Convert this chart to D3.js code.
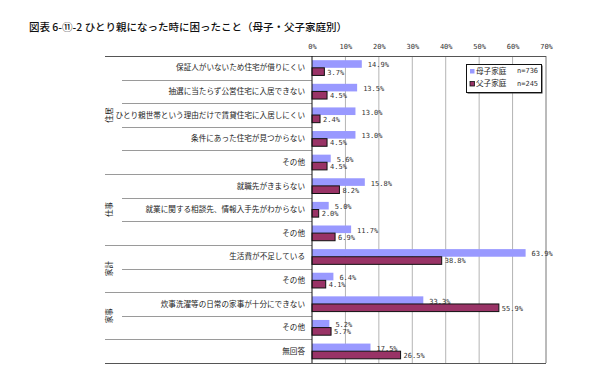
<!DOCTYPE html>
<html>
<head>
<meta charset="utf-8">
<script src="https://cdn.jsdelivr.net/npm/d3@7"></script>
<style>
  body { margin: 0; background: #fff; }
  text { font-family: "Noto Sans CJK JP", sans-serif; }
  .num { font-family: "DejaVu Sans Mono", monospace; font-size: 7px; fill: #333; }
</style>
</head>
<body>
<div id="chart"></div>
<script>
const groups = ['住居', '住居', '住居', '住居', '住居', '仕事', '仕事', '仕事', '家計', '家計', '家事', '家事', ''];
const categories = [
  '保証人がいないため住宅が借りにくい',
  '抽選に当たらず公営住宅に入居できない',
  'ひとり親世帯という理由だけで賃貸住宅に入居しにくい',
  '条件にあった住宅が見つからない',
  'その他',
  '就職先がきまらない',
  '就業に関する相談先、情報入手先がわからない',
  'その他',
  '生活費が不足している',
  'その他',
  '炊事洗濯等の日常の家事が十分にできない',
  'その他',
  '無回答'
];
const boshi = [14.9, 13.5, 13.0, 13.0, 5.6, 15.8, 5.0, 11.7, 63.9, 6.4, 33.3, 5.2, 17.5];
const fushi = [3.7, 4.5, 2.4, 4.5, 4.5, 8.2, 2.0, 6.9, 38.8, 4.1, 55.9, 5.7, 26.5];
const xTicks = [0, 10, 20, 30, 40, 50, 60, 70];
const seriesNames = ['母子家庭', '父子家庭'];
const seriesN = ['n=736', 'n=245'];

const W = 600, H = 389;
const plot = { left: 312, right: 546, top: 56, bottom: 363 };
const labelLeft = 105, innerLeft = 122;

const svg = d3.select('#chart').append('svg')
  .attr('width', W).attr('height', H);

svg.append('text')
  .attr('x', 29).attr('y', 31)
  .attr('font-size', 10.5)
  .attr('font-weight', 500)
  .attr('fill', '#111')
  .text('図表 6-⑪-2 ひとり親になった時に困ったこと（母子・父子家庭別）');

const x = d3.scaleLinear().domain([0, 70]).range([plot.left, plot.right]);
const y = d3.scaleBand().domain(d3.range(categories.length)).range([plot.top, plot.bottom]);
const ySub = d3.scaleBand().domain([0, 1]).range([0, y.bandwidth()]).paddingOuter(0.55).paddingInner(0);

// vertical gridlines
svg.append('g').selectAll('line')
  .data(xTicks.slice(1))
  .enter().append('line')
    .attr('x1', d => x(d)).attr('x2', d => x(d))
    .attr('y1', plot.top).attr('y2', plot.bottom)
    .attr('stroke', d => d === 70 ? '#777' : '#b4b4b4')
    .attr('stroke-width', 1);

// top tick labels
const axis = svg.append('g')
  .attr('transform', 'translate(0,' + plot.top + ')')
  .call(d3.axisTop(x).tickValues(xTicks).tickSize(0).tickFormat(d => d + '%'));
axis.select('.domain').remove();
axis.selectAll('.tick text')
  .attr('class', 'num')
  .attr('font-size', null)
  .attr('font-family', null)
  .attr('dy', -4);

// row separators in the label area
const bounds = d3.range(categories.length + 1);
svg.append('g').selectAll('line')
  .data(bounds)
  .enter().append('line')
    .attr('x1', i => (i === 0 || i === categories.length || groups[i] !== groups[i - 1]) ? labelLeft : innerLeft)
    .attr('x2', i => (i === 0 || i === categories.length) ? plot.right : plot.left)
    .attr('y1', i => Math.round(plot.top + i * y.step()) + 0.5)
    .attr('y2', i => Math.round(plot.top + i * y.step()) + 0.5)
    .attr('stroke', i => (i === 0 || i === categories.length) ? '#555' : '#9a9a9a')
    .attr('stroke-width', 1);

// category labels
svg.append('g').selectAll('text')
  .data(categories)
  .enter().append('text')
    .attr('x', 305)
    .attr('y', (d, i) => y(i) + y.bandwidth() / 2)
    .attr('dy', '0.35em')
    .attr('text-anchor', 'end')
    .attr('font-size', 7.6)
    .attr('fill', '#222')
    .text(d => d);

// group labels (rotated)
const groupNames = Array.from(new Set(groups.filter(g => g)));
svg.append('g').selectAll('text')
  .data(groupNames)
  .enter().append('text')
    .attr('transform', g => {
      const idx = groups.map((v, i) => v === g ? i : -1).filter(i => i >= 0);
      const cy = (y(idx[0]) + y(idx[idx.length - 1]) + y.bandwidth()) / 2;
      return 'translate(109,' + cy + ') rotate(-90)';
    })
    .attr('text-anchor', 'middle')
    .attr('dy', '0.35em')
    .attr('font-size', 7.6)
    .attr('fill', '#222')
    .text(d => d);

// bars
const colors = ['#9999ff', '#993366'];
const series = [boshi, fushi];
series.forEach((vals, s) => {
  const g = svg.append('g');
  g.selectAll('rect')
    .data(vals)
    .enter().append('rect')
      .attr('x', x(0))
      .attr('y', (d, i) => y(i) + ySub(s))
      .attr('width', d => x(d) - x(0))
      .attr('height', ySub.bandwidth())
      .attr('fill', colors[s])
      .attr('stroke', s === 1 ? '#111' : 'none')
      .attr('stroke-width', 1);
  g.selectAll('text')
    .data(vals)
    .enter().append('text')
      .attr('class', 'num')
      .attr('x', d => x(d) + (s === 0 ? 6 : 3))
      .attr('y', (d, i) => y(i) + ySub(s) + ySub.bandwidth() / 2 + (s === 0 ? 1 : 0.5))
      .attr('dy', '0.35em')
      .text(d => d.toFixed(1) + '%');
});

// axis line at 0%
svg.append('line')
  .attr('x1', x(0)).attr('x2', x(0))
  .attr('y1', plot.top).attr('y2', plot.bottom)
  .attr('stroke', '#111');

// legend
const legend = svg.append('g').attr('transform', 'translate(466,64)');
legend.append('rect')
  .attr('x', 1.5).attr('y', 1.5).attr('width', 75).attr('height', 28)
  .attr('fill', '#333');
legend.append('rect')
  .attr('x', 0.5).attr('y', 0.5).attr('width', 75).attr('height', 28)
  .attr('fill', '#fff').attr('stroke', '#111');
seriesNames.forEach((name, i) => {
  const row = legend.append('g').attr('transform', 'translate(0,' + (7 + i * 12.5) + ')');
  row.append('rect')
    .attr('x', 4).attr('y', -2).attr('width', 4.5).attr('height', 4.5)
    .attr('fill', colors[i]).attr('stroke', i === 1 ? '#111' : 'none').attr('stroke-width', 0.8);
  row.append('text')
    .attr('x', 10).attr('dy', '0.35em')
    .attr('font-size', 7.6).attr('fill', '#222')
    .text(name);
  row.append('text')
    .attr('class', 'num')
    .attr('x', 51).attr('dy', '0.35em')
    .text(seriesN[i]);
});
</script>
</body>
</html>
